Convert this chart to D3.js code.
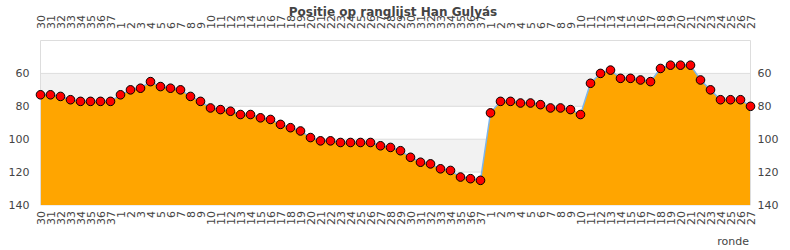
<!DOCTYPE html>
<html>
<head>
<meta charset="utf-8">
<script src="https://cdn.jsdelivr.net/npm/d3@7"></script>
<style>
  body { margin: 0; background: #fff; }
  svg text { font-family: "DejaVu Sans", sans-serif; fill: #444; }
</style>
</head>
<body>
<div id="chart"></div>
<script>
// rounds over three seasons
var rounds = ["30","31","32","33","34","35","36","37",
  "1","2","3","4","5","6","7","8","9","10","11","12","13","14","15","16","17","18","19",
  "20","21","22","23","24","25","26","27","28","29","30","31","32","33","34","35","36","37",
  "1","2","3","4","5","6","7","8","9","10","11","12","13","14","15","16","17","18","19",
  "20","21","22","23","24","25","26","27"];
var positions = [73,73,74,76,77,77,77,77,
  73,70,69,65,68,69,70,74,77,81,82,83,85,85,87,88,91,93,95,
  99,101,101,102,102,102,102,104,105,107,111,114,115,118,119,123,124,125,
  84,77,77,78,78,79,81,81,82,85,66,60,58,63,63,64,65,57,55,55,55,64,70,76,76,76,80];
var yTicks = [60, 80, 100, 120, 140];
var bands = [[60, 80], [100, 120]];

var width = 790, height = 250;
var margin = {top: 40.5, right: 39.5, bottom: 45, left: 40.5};

var svg = d3.select('#chart').append('svg')
    .attr('width', width)
    .attr('height', height);

var x = d3.scaleLinear()
    .domain([0, rounds.length - 1])
    .range([margin.left, width - margin.right]);
var y = d3.scaleLinear()
    .domain([40, 140])
    .range([margin.top, height - margin.bottom]);

// alternating bands
svg.selectAll('.band').data(bands).enter().append('rect')
    .attr('x', margin.left)
    .attr('width', x.range()[1] - margin.left)
    .attr('y', function(d) { return y(d[0]); })
    .attr('height', function(d) { return y(d[1]) - y(d[0]); })
    .style('fill', '#f2f2f2');

// grid lines
svg.selectAll('.grid').data([40].concat(yTicks)).enter().append('line')
    .attr('x1', margin.left).attr('x2', x.range()[1])
    .attr('y1', function(d) { return y(d); })
    .attr('y2', function(d) { return y(d); })
    .style('stroke', '#ddd');

// area under the line
var area = d3.area()
    .x(function(d, i) { return x(i); })
    .y0(y(140))
    .y1(function(d) { return y(d); });
svg.append('path')
    .datum(positions)
    .attr('d', area)
    .style('fill', '#ffa500');

var line = d3.line()
    .x(function(d, i) { return x(i); })
    .y(function(d) { return y(d); });
svg.append('path')
    .datum(positions)
    .attr('d', line)
    .style('fill', 'none')
    .style('stroke', '#7cb5ec')
    .style('stroke-width', 1.5);

// side borders
svg.selectAll('.border').data(x.range()).enter().append('line')
    .attr('x1', function(d) { return d; }).attr('x2', function(d) { return d; })
    .attr('y1', y(40)).attr('y2', y(140))
    .style('stroke', '#ddd');

// markers
svg.selectAll('.dot').data(positions).enter().append('circle')
    .attr('cx', function(d, i) { return x(i); })
    .attr('cy', function(d) { return y(d); })
    .attr('r', 4.3)
    .style('fill', '#ff0000')
    .style('stroke', '#000')
    .style('stroke-width', 1);

// y axis labels on both sides
var leftAxis = d3.axisLeft(y).tickValues(yTicks).tickSize(0).tickPadding(11);
svg.append('g')
    .attr('transform', 'translate(' + margin.left + ',0)')
    .call(leftAxis)
    .call(function(g) { g.select('.domain').remove(); })
    .selectAll('text').style('font-size', '11px').style('fill', '#444')
    .style('font-family', '"DejaVu Sans", sans-serif');

var rightAxis = d3.axisRight(y).tickValues(yTicks).tickSize(0).tickPadding(7);
svg.append('g')
    .attr('transform', 'translate(' + x.range()[1] + ',0)')
    .call(rightAxis)
    .call(function(g) { g.select('.domain').remove(); })
    .selectAll('text').style('font-size', '11px').style('fill', '#444')
    .style('font-family', '"DejaVu Sans", sans-serif');

// round labels, top and bottom
svg.selectAll('.xtop').data(rounds).enter().append('text')
    .attr('transform', function(d, i) { return 'translate(' + (x(i) + 4) + ',29) rotate(-90)'; })
    .style('font-size', '11px')
    .attr('text-anchor', 'start')
    .text(function(d) { return d; });

svg.selectAll('.xbot').data(rounds).enter().append('text')
    .attr('transform', function(d, i) { return 'translate(' + (x(i) + 4) + ',211) rotate(-90)'; })
    .style('font-size', '11px')
    .attr('text-anchor', 'end')
    .text(function(d) { return d; });

svg.append('text')
    .attr('x', 393).attr('y', 16)
    .attr('text-anchor', 'middle')
    .style('font-size', '12px')
    .style('font-weight', 'bold')
    .text('Positie op ranglijst Han Gulyás');

svg.append('text')
    .attr('x', 749).attr('y', 245)
    .attr('text-anchor', 'end')
    .style('font-size', '11px')
    .text('ronde');
</script>
</body>
</html>
